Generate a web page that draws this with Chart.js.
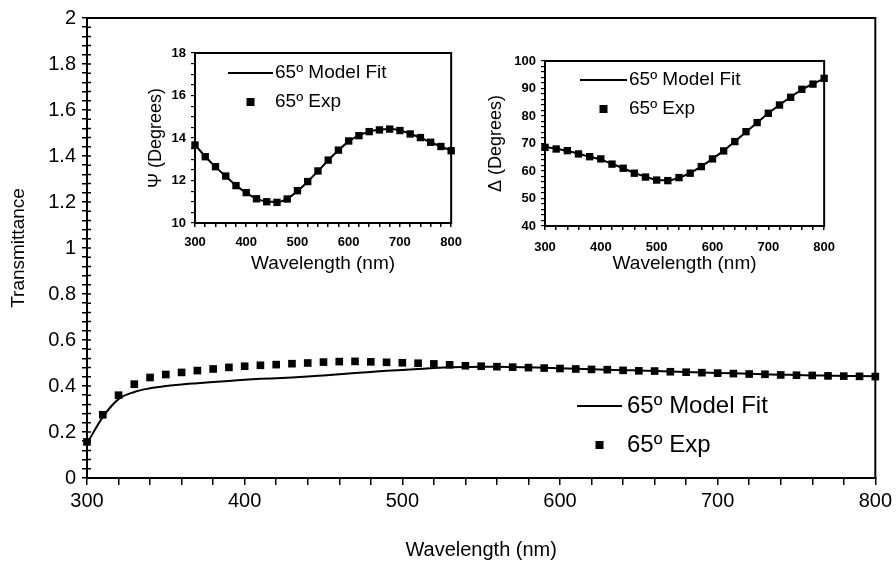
<!DOCTYPE html>
<html><head><meta charset="utf-8">
<script src="https://cdn.jsdelivr.net/npm/chart.js@4.4.1/dist/chart.umd.min.js"></script>
<style>
html,body{margin:0;padding:0;background:#fff;}
#wrap{position:relative;width:896px;height:562px;overflow:hidden;}
.c{position:absolute;}
</style></head><body>
<div id="wrap">
 <div class="c" style="left:0;top:0;width:896px;height:562px"><canvas id="main"></canvas></div>
 <div class="c" style="left:140px;top:35px;width:330px;height:240px"><canvas id="psi"></canvas></div>
 <div class="c" style="left:480px;top:40px;width:365px;height:235px"><canvas id="del"></canvas></div>
</div>
<script>
// ---------- data ----------
const seriesFit = '65º Model Fit';
const seriesExp = '65º Exp';

const mainWl = [300,310,320,330,340,350,360,370,380,390,400,410,420,430,440,450,460,470,480,490,500,
  510,520,530,540,550,560,570,580,590,600,610,620,630,640,650,660,670,680,690,700,
  710,720,730,740,750,760,770,780,790,800];
const mainExp = [0.157,0.275,0.360,0.408,0.437,0.450,0.459,0.467,0.474,0.481,0.486,0.490,0.493,0.497,0.500,0.504,0.506,0.507,0.505,0.503,0.501,
  0.499,0.496,0.492,0.488,0.486,0.484,0.482,0.480,0.478,0.476,0.474,0.472,0.471,0.468,0.466,0.465,0.462,0.460,0.458,0.456,
  0.454,0.452,0.451,0.448,0.447,0.446,0.444,0.443,0.442,0.441];
const mainFit = [0.150,0.265,0.343,0.374,0.390,0.400,0.407,0.412,0.417,0.422,0.427,0.431,0.434,0.437,0.441,0.446,0.451,0.456,0.461,0.466,0.470,
  0.474,0.478,0.481,0.483,0.484,0.484,0.483,0.481,0.479,0.477,0.475,0.473,0.471,0.469,0.467,0.465,0.463,0.461,0.459,0.457,
  0.455,0.453,0.451,0.449,0.448,0.446,0.445,0.444,0.443,0.442];

const insetWl = [300,320,340,360,380,400,420,440,460,480,500,520,540,560,580,600,620,640,660,680,700,720,740,760,780,800];
const psiExp = [13.67,13.12,12.65,12.21,11.76,11.43,11.14,11.00,10.97,11.13,11.52,11.95,12.45,12.96,13.43,13.86,14.11,14.30,14.38,14.42,14.35,14.19,14.02,13.80,13.60,13.40];
const psiFit = [13.68,13.13,12.64,12.20,11.77,11.42,11.15,11.01,10.99,11.14,11.50,11.95,12.44,12.95,13.42,13.84,14.12,14.30,14.39,14.42,14.36,14.20,14.01,13.80,13.60,13.41];
const delExp = [68.6,68.0,67.4,66.2,65.2,64.4,62.5,61.0,59.2,57.8,56.7,56.5,57.6,59.2,61.6,64.4,67.3,70.7,74.3,77.6,81.0,84.0,86.8,89.7,91.6,93.7];
const delFit = [68.7,68.1,67.3,66.3,65.2,64.2,62.6,61.0,59.3,57.9,56.8,56.6,57.5,59.3,61.7,64.4,67.4,70.7,74.2,77.6,81.0,84.0,86.9,89.6,91.7,93.6];

const mainXTicks = [300,400,500,600,700,800];
const mainYTicks = [0,0.2,0.4,0.6,0.8,1,1.2,1.4,1.6,1.8,2];
const psiYTicks = [10,12,14,16,18];
const delYTicks = [40,50,60,70,80,90,100];

// ---------- helpers ----------
const FONT = '"Liberation Sans", Arial, Helvetica, sans-serif';
Chart.defaults.font.family = FONT;
Chart.defaults.color = '#000';

const pts = (xs, ys) => xs.map((x, i) => ({x, y: ys[i]}));
const labelIf = (list) => (v) => {
  const hit = list.find(t => Math.abs(t - v) < 1e-6);
  return hit === undefined ? '' : String(hit);
};

const framePlugin = {
  id: 'frame',
  afterDatasetsDraw(chart, args, o) {
    const {ctx, chartArea: a} = chart;
    ctx.save();
    ctx.strokeStyle = '#000';
    ctx.lineWidth = o.width || 2;
    ctx.strokeRect(a.left, a.top, a.right - a.left, a.bottom - a.top);
    // inward part of the y-axis tick marks (ticks cross the axis)
    if (o.innerY) {
      const s = chart.scales.y;
      ctx.lineWidth = 1.5;
      ctx.beginPath();
      s.ticks.forEach(t => {
        const py = s.getPixelForValue(t.value);
        ctx.moveTo(a.left, py); ctx.lineTo(a.left + o.innerY, py);
      });
      ctx.stroke();
    }
    ctx.restore();
  }
};

const legendPlugin = {
  id: 'inLegend',
  afterDraw(chart, args, o) {
    const {ctx, chartArea: a} = chart;
    ctx.save();
    ctx.font = o.fontSize + 'px ' + FONT;
    ctx.fillStyle = '#000';
    ctx.strokeStyle = '#000';
    ctx.textBaseline = 'middle';
    ctx.textAlign = 'left';
    chart.data.datasets.forEach((d, i) => {
      const y = a.top + o.y + i * o.gap;
      const x0 = a.left + o.x;
      if (d.showLine) {
        ctx.lineWidth = d.borderWidth;
        ctx.beginPath(); ctx.moveTo(x0, y); ctx.lineTo(x0 + o.len, y); ctx.stroke();
      } else {
        const s = o.box;
        ctx.fillRect(x0 + o.len / 2 - s / 2, y - s / 2, s, s);
      }
      ctx.fillText(d.label, x0 + o.len + o.textGap, y);
    });
    ctx.restore();
  }
};

function datasets(xs, fit, exp, r, lw) {
  return [
    {label: seriesFit, data: pts(xs, fit), showLine: true, borderColor: '#000', borderWidth: lw,
     pointRadius: 0, cubicInterpolationMode: 'monotone', fill: false},
    {label: seriesExp, data: pts(xs, exp), showLine: false, pointStyle: 'rect', pointRadius: r,
     backgroundColor: '#000', borderWidth: 0, clip: false}
  ];
}

// ---------- main chart ----------
new Chart(document.getElementById('main'), {
  type: 'scatter',
  data: {datasets: datasets(mainWl, mainFit, mainExp, 5.4, 2)},
  plugins: [framePlugin, legendPlugin],
  options: {
    responsive: true, maintainAspectRatio: false, animation: false, devicePixelRatio: 1,
    layout: {padding: {left: 0, top: 17, right: 19, bottom: 0}},
    plugins: {
      legend: {display: false}, tooltip: {enabled: false},
      frame: {width: 2, innerY: 4},
      inLegend: {x: 490, y: 388, gap: 39, len: 45, textGap: 5, box: 8, fontSize: 24}
    },
    scales: {
      x: {type: 'linear', min: 300, max: 800,
        ticks: {stepSize: 20, autoSkip: false, maxRotation: 0, callback: labelIf(mainXTicks), font: {size: 20}, padding: 4},
        grid: {drawOnChartArea: false, tickLength: 7, color: '#000', lineWidth: 1.5},
        border: {color: '#000', width: 2},
        title: {display: true, text: 'Wavelength (nm)', font: {size: 20}, padding: {top: 2, bottom: 0}},
        afterFit(s) { s.height = 84; }
      },
      y: {type: 'linear', min: 0, max: 2,
        ticks: {stepSize: 0.04, autoSkip: false, callback: labelIf(mainYTicks), font: {size: 20}, padding: 6},
        grid: {drawOnChartArea: false, tickLength: 5, color: '#000', lineWidth: 1.5},
        border: {color: '#000', width: 2},
        title: {display: true, text: 'Transmittance', font: {size: 19}, padding: {top: 7, bottom: 0}},
        afterFit(s) { s.width = 87; }
      }
    }
  }
});

// ---------- inset charts ----------
function inset(id, exp, fit, yMin, yMax, yStep, yTicks, yTitle, pad, yW, xH, leg, xPad, yTitlePad) {
  new Chart(document.getElementById(id), {
    type: 'scatter',
    data: {datasets: datasets(insetWl, fit, exp, 5.2, 2)},
    plugins: [framePlugin, legendPlugin],
    options: {
      responsive: true, maintainAspectRatio: false, animation: false, devicePixelRatio: 1,
      layout: {padding: pad},
      plugins: {legend: {display: false}, tooltip: {enabled: false}, frame: {width: 2}, inLegend: leg},
      scales: {
        x: {type: 'linear', min: 300, max: 800,
          ticks: {stepSize: 20, autoSkip: false, maxRotation: 0, callback: labelIf(mainXTicks), font: {size: 13, weight: 'bold'}, padding: xPad},
          grid: {drawOnChartArea: false, tickLength: 4, color: '#000', lineWidth: 1.5},
          border: {color: '#000', width: 2},
          title: {display: true, text: 'Wavelength (nm)', font: {size: 19}, padding: {top: 4, bottom: 0}},
          afterFit(s) { s.height = xH; }
        },
        y: {type: 'linear', min: yMin, max: yMax,
          ticks: {stepSize: yStep, autoSkip: false, callback: labelIf(yTicks), font: {size: 13, weight: 'bold'}, padding: 5},
          grid: {drawOnChartArea: false, tickLength: 4, color: '#000', lineWidth: 1.2},
          border: {color: '#000', width: 2},
          title: {display: true, text: yTitle, font: {size: 18}, padding: {top: yTitlePad, bottom: 0}},
          afterFit(s) { s.width = yW; }
        }
      }
    }
  });
}

inset('psi', psiExp, psiFit, 10, 18, 0.5, psiYTicks, 'Ψ (Degrees)',
  {left: 0, top: 18, right: 9, bottom: 0}, 55, 52,
  {x: 33, y: 20, gap: 29, len: 45, textGap: 2, box: 8, fontSize: 19}, 8, 5);

inset('del', delExp, delFit, 40, 100, 2, delYTicks, 'Δ (Degrees)',
  {left: 0, top: 21, right: 13, bottom: 0}, 65, 49,
  {x: 35, y: 19, gap: 29, len: 47, textGap: 2, box: 8, fontSize: 19}, 10, 5);
</script>
</body></html>
